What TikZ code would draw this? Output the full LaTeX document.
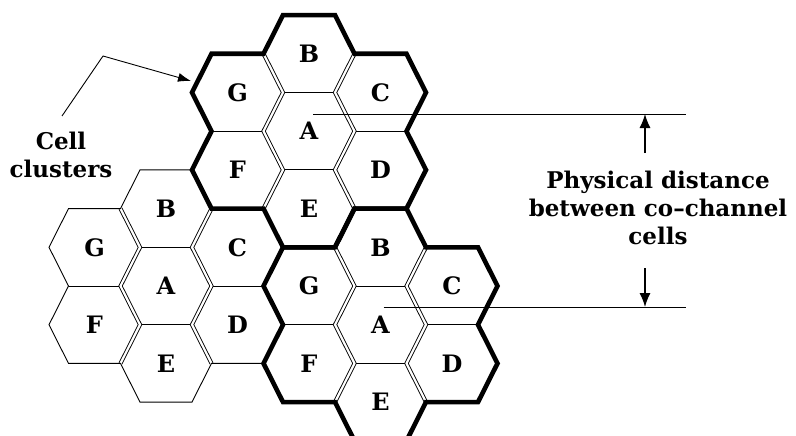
\documentclass[tikz,border=0pt]{standalone}
\usepackage{fontspec}
\setmainfont{DejaVu Serif}
\usepackage{tikz}
\usetikzlibrary{arrows.meta, calc}

\def\hexa{26}
\def\hexw{45.5}
\def\hexh{38.7}
\def\hexc{71.5}

% one 7-cell cluster: #1 name prefix, #2 centre of cell A, #3 outline style
\newcommand{\drawcluster}[3]{%
  \begin{scope}[shift={#2}]
    \draw[inedge] (-\hexa,-\hexh) -- (\hexa,-\hexh);
    \draw[inedge] (-\hexa,\hexh) -- (\hexa,\hexh);
    \draw[inedge] (-\hexc-\hexa,0) -- (-\hexw,0);
    \draw[inedge] (\hexw,0) -- (\hexc+\hexa,0);
    \draw[dbledge] (-\hexw,-2*\hexh) -- (-\hexa,-\hexh) -- (-\hexw,0) -- (-\hexa,\hexh) -- (-\hexw,2*\hexh);
    \draw[dbledge] (\hexw,-2*\hexh) -- (\hexa,-\hexh) -- (\hexw,0) -- (\hexa,\hexh) -- (\hexw,2*\hexh);
    \draw[#3] (-\hexa,-3*\hexh) -- (\hexa,-3*\hexh) -- (\hexw,-2*\hexh) -- (\hexc+\hexa,-2*\hexh)
      -- (\hexc+\hexw,-\hexh) -- (\hexc+\hexa,0) -- (\hexc+\hexw,\hexh) -- (\hexc+\hexa,2*\hexh)
      -- (\hexw,2*\hexh) -- (\hexa,3*\hexh) -- (-\hexa,3*\hexh) -- (-\hexw,2*\hexh)
      -- (-\hexc-\hexa,2*\hexh) -- (-\hexc-\hexw,\hexh) -- (-\hexc-\hexa,0) -- (-\hexc-\hexw,-\hexh)
      -- (-\hexc-\hexa,-2*\hexh) -- (-\hexw,-2*\hexh) -- cycle;
    \node[celllabel] (#1A) at (0,0) {A};
    \node[celllabel] (#1B) at (0,-2*\hexh) {B};
    \node[celllabel] (#1C) at (\hexc,-\hexh) {C};
    \node[celllabel] (#1D) at (\hexc,\hexh) {D};
    \node[celllabel] (#1E) at (0,2*\hexh) {E};
    \node[celllabel] (#1F) at (-\hexc,\hexh) {F};
    \node[celllabel] (#1G) at (-\hexc,-\hexh) {G};
  \end{scope}}

\begin{document}
\begin{tikzpicture}[
    x=1pt, y=-1pt,
    celllabel/.style={font=\fontsize{24}{28}\selectfont\bfseries, inner sep=0pt},
    inedge/.style={line width=0.9pt},
    dbledge/.style={line width=0.9pt, double=white, double distance=2.2pt},
    plainedge/.style={line width=0.9pt},
    clusteredge/.style={line width=4.6pt},
    pointer/.style={line width=0.9pt, -{Latex[length=13pt,width=9pt]}},
    distarrow/.style={line width=1.2pt, -{Latex[length=14pt,width=11pt]}},
    distline/.style={line width=1pt},
    disttext/.style={font=\fontsize{23}{28}\selectfont\bfseries, align=center, inner sep=0pt, anchor=base}
]
\useasboundingbox (0,0) rectangle (796,436);

% Clusters
\drawcluster{low}{(166,286)}{plainedge}
\drawcluster{top}{(309,131.2)}{clusteredge}
\drawcluster{right}{(380.5,324.7)}{clusteredge}

% Cell clusters label
\node[disttext] (clusterlbl) at (61,177) {Cell\\clusters};
\coordinate (bend) at (103,56);
\coordinate (gedge) at (191,81);
\draw[line width=0.9pt] (62,116) -- (bend);
\draw[pointer] (bend) -- (gedge);

% Distance between co-channel cells
\coordinate (topend) at ($(topA)+(4,-17)$);
\coordinate (lowend) at ($(rightA)+(3,-17.7)$);
\draw[distline] (topend) -- (topend -| 686,0);
\draw[distline] (lowend) -- (lowend -| 686,0);
\node[disttext] (distlbl) at (658,244) {Physical distance\\between co--channel\\cells};
\draw[distarrow] (645,153) -- (645,114);
\draw[distarrow] (645,268) -- (645,307);
\end{tikzpicture}
\end{document}
